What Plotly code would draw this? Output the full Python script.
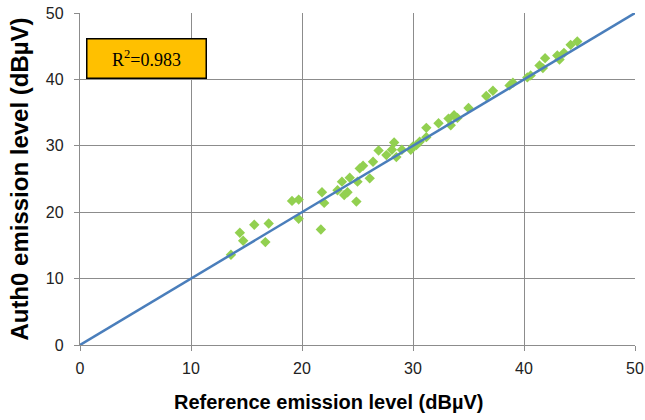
import plotly.graph_objects as go

ref_level = [13.6, 14.4, 14.7, 15.7, 16.7, 17.0, 19.1, 19.7, 19.7, 21.7, 21.8, 22.0,
             23.2, 23.6, 23.8, 24.1, 24.3, 24.9, 25.0, 25.2, 25.5, 26.1, 26.4, 26.9,
             27.6, 28.1, 28.3, 28.5, 29.0, 29.8, 30.0, 30.3, 30.6, 31.2, 31.2, 32.3,
             33.2, 33.4, 33.7, 34.0, 35.0, 36.6, 37.2, 38.7, 39.0, 40.3, 40.6, 41.4,
             41.9, 41.7, 43.0, 43.2, 43.6, 44.2, 44.8]
auth_level = [13.6, 16.9, 15.7, 18.1, 15.5, 18.3, 21.7, 21.9, 19.0, 17.4, 23.0, 21.4,
              23.3, 24.6, 22.6, 23.0, 25.2, 21.6, 24.6, 26.6, 27.0, 25.1, 27.6, 29.3,
              28.6, 29.4, 30.5, 28.3, 29.4, 29.4, 29.9, 30.1, 30.6, 32.7, 31.3, 33.4,
              34.1, 33.1, 34.6, 34.2, 35.7, 37.5, 38.3, 39.1, 39.5, 40.3, 40.6, 42.1,
              43.2, 41.7, 43.6, 43.0, 44.0, 45.2, 45.7]
fit_x = [0, 50]
fit_y = [0, 50]
tick_vals = [0, 10, 20, 30, 40, 50]
r2_text = "R<sup>2</sup>=0.983"
x_title = "<b>Reference emission level (dBµV)</b>"
y_title = "<b>Auth0 emission level (dBµV)</b>"

fig = go.Figure()
fig.add_trace(go.Scatter(x=ref_level, y=auth_level, mode="markers",
                         marker=dict(symbol="diamond", size=8, color="#92D050"),
                         showlegend=False))
fig.add_trace(go.Scatter(x=fit_x, y=fit_y, mode="lines",
                         line=dict(color="#4A7EBB", width=2.5), showlegend=False))

axis_common = dict(range=[0, 50], tickvals=tick_vals, showgrid=True,
                   gridcolor="#8C8C8C", gridwidth=1.3, showline=True,
                   linecolor="#8C8C8C", linewidth=1.3, ticks="outside",
                   ticklen=5, tickcolor="#8C8C8C", zeroline=False, automargin=False,
                   tickfont=dict(family="Liberation Sans", size=16, color="#222"))

fig.update_xaxes(**axis_common, ticklabelstandoff=4)
fig.update_yaxes(**axis_common, ticklabelstandoff=7,
                 title=dict(text=y_title,
                            font=dict(family="Liberation Sans", size=24, color="#000"),
                            standoff=10))

fig.add_annotation(xref="paper", yref="paper", x=0.4486, y=-0.172,
                   xanchor="center", yanchor="middle", showarrow=False,
                   text=x_title,
                   font=dict(family="Liberation Sans", size=20, color="#000"))

fig.add_annotation(xref="paper", yref="paper", x=0.011, y=0.925,
                   xanchor="left", yanchor="top",
                   text=r2_text, showarrow=False, align="center",
                   width=114, height=34, bgcolor="#FFC000",
                   bordercolor="#000", borderwidth=1.5, borderpad=2,
                   font=dict(family="Liberation Serif", size=18, color="#000"))

fig.update_layout(width=645, height=420, margin=dict(l=80, r=10, t=13, b=75),
                  plot_bgcolor="white", paper_bgcolor="white")

fig.write_html("out.html")
